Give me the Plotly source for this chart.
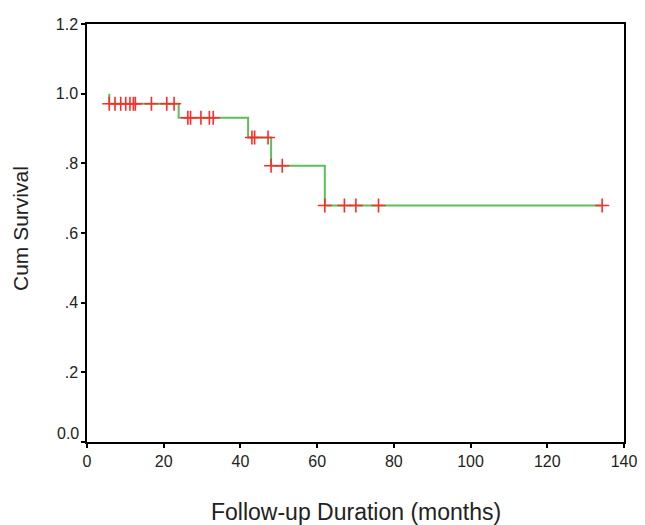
import plotly.graph_objects as go

# Kaplan-Meier step data (months, cumulative survival)
step_times = [5.8, 5.8, 23.9, 42.0, 48.0, 62.0, 134.3]
step_surv = [1.0, 0.971, 0.931, 0.874, 0.793, 0.679, 0.679]

# censored observations (months)
censor_times = [5.8, 7.3, 8.8, 10.1, 11.2, 12.1, 12.6, 16.8, 20.8, 22.7,
                26.3, 27.0, 29.7, 31.9, 32.9,
                43.0, 43.7, 47.2,
                48.0, 50.9,
                62.0, 67.1, 70.1, 76.0, 134.3]

y_tickvals = [0.0, 0.2, 0.4, 0.6, 0.8, 1.0, 1.2]
y_ticktext = ["", ".2", ".4", ".6", ".8", "1.0", "1.2"]  # "0.0" drawn raised, as in original
y_zero_label = "0.0"
x_tickvals = [0, 20, 40, 60, 80, 100, 120, 140]


def surv_at(t):
    # value of the step function just after time t
    val = step_surv[0]
    for st, sv in zip(step_times[1:], step_surv[1:]):
        if t >= st - 1e-9:
            val = sv
    return val


censor_surv = [surv_at(t) for t in censor_times]

fig = go.Figure()
fig.add_trace(go.Scatter(
    x=step_times, y=step_surv, mode="lines",
    line=dict(color="#5cbf5c", width=2, shape="hv"),
    hoverinfo="skip", showlegend=False))
fig.add_trace(go.Scatter(
    x=censor_times, y=censor_surv, mode="markers",
    marker=dict(symbol="cross-thin", size=10,
                line=dict(color="#ff2a2a", width=1.6)),
    showlegend=False))

font_family = "Liberation Sans, Arial, sans-serif"
fig.update_layout(
    width=637, height=517,
    margin=dict(l=79, r=18, t=8, b=83),
    paper_bgcolor="white", plot_bgcolor="white",
    font=dict(family=font_family, color="#222", size=15),
    xaxis=dict(range=[0, 140], tickvals=x_tickvals, showgrid=False, zeroline=False,
               showline=True, mirror=True, linecolor="black", linewidth=1.5,
               ticks="outside", ticklen=4, tickwidth=2, tickcolor="black",
               tickfont=dict(size=16, family=font_family)),
    yaxis=dict(range=[0, 1.2], tickvals=y_tickvals, ticktext=y_ticktext,
               showgrid=False, zeroline=False,
               showline=True, mirror=True, linecolor="black", linewidth=1.5,
               ticks="outside", ticklen=4, tickwidth=2, tickcolor="black",
               tickfont=dict(size=16, family=font_family)),
    annotations=[
        dict(text=y_zero_label, xref="paper", yref="y", x=0, y=0,
             xanchor="right", yanchor="middle", xshift=-7, yshift=9,
             showarrow=False, borderpad=0,
             font=dict(size=16, family=font_family, color="#222")),
        dict(text="Follow-up Duration (months)", xref="paper", yref="paper",
             x=0.5, y=0, yshift=-70, showarrow=False, yanchor="middle",
             font=dict(size=23, family=font_family, color="#222")),
        dict(text="Cum Survival", xref="paper", yref="paper",
             x=0, y=0.5, xshift=-67, yshift=4, showarrow=False, textangle=-90,
             xanchor="center", yanchor="middle",
             font=dict(size=21, family=font_family, color="#222")),
    ],
)

fig.write_html("out.html")
